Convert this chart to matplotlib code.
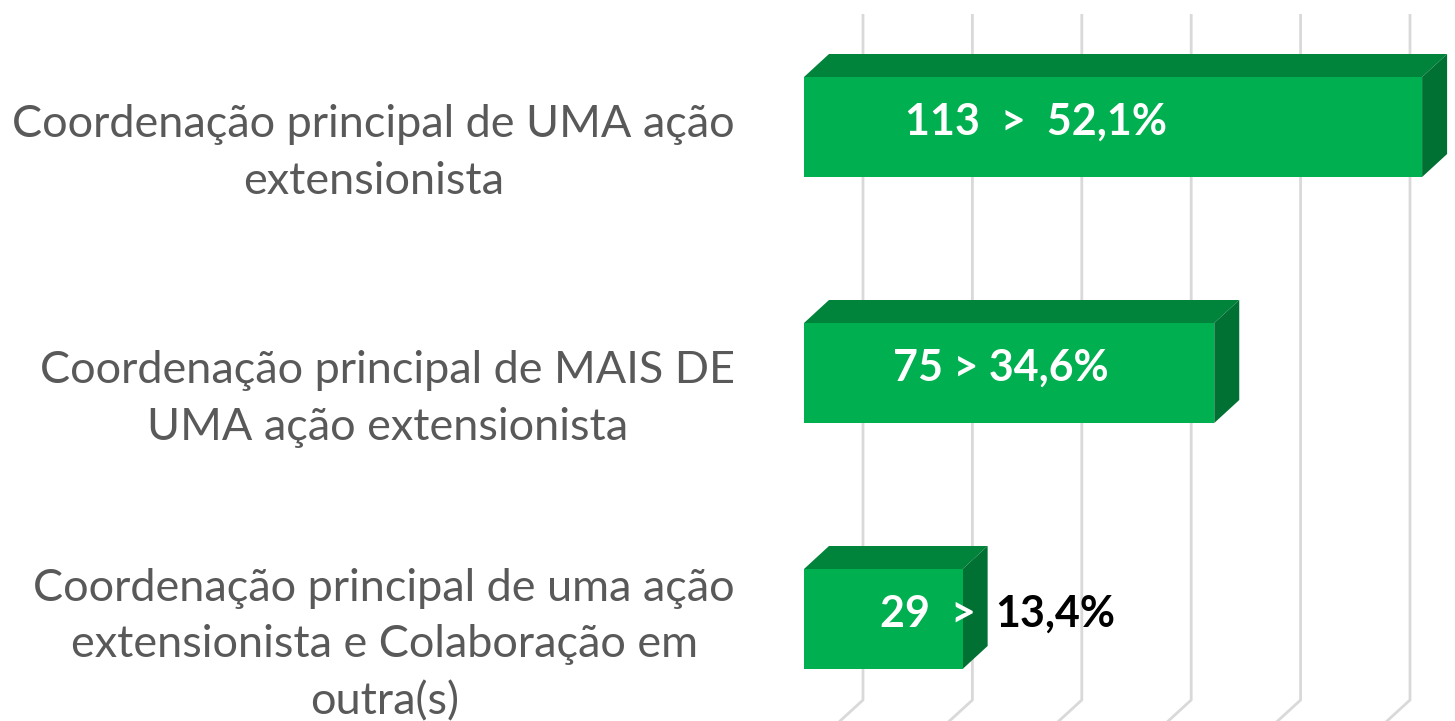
import matplotlib
matplotlib.use('Agg')
import matplotlib.pyplot as plt
from matplotlib.patches import Polygon, Rectangle

# data
categories = ['Coordenação principal de UMA ação\nextensionista',
              'Coordenação principal de MAIS DE\nUMA ação extensionista',
              'Coordenação principal de uma ação\nextensionista e Colaboração em\noutra(s)']
counts = [113, 75, 29]
percents = ['52,1%', '34,6%', '13,4%']
grid_values = [0, 20, 40, 60, 80, 100]

# style / layout
W, H = 1455, 721
px_per_val = 5.47
px_per_cat = 246.0
x0_px, y0_px = 804, 127
bar_h = 100 / px_per_cat
bar_dx, bar_dy = 25 / px_per_val, 23 / px_per_cat
wall_dx, wall_dy = 59 / px_per_val, 54 / px_per_cat
c_front, c_top, c_side = '#00B050', '#00843C', '#007132'
grid_col = '#D9D9D9'
label_col = '#595959'
label_x = [18.5, 16.3, 13.9]
fs_val = 31

plt.rcParams['font.family'] = ['Lato', 'DejaVu Sans']

fig = plt.figure(figsize=(W / 100, H / 100), dpi=100)
ax = fig.add_axes([0, 0, 1, 1])
ax.set_xlim(-x0_px / px_per_val, (W - x0_px) / px_per_val)
ax.set_ylim((H - y0_px) / px_per_cat, -y0_px / px_per_cat)
ax.axis('off')

# back wall gridlines (3D style, bending towards the floor)
y_top = (14 - y0_px) / px_per_cat
y_bend = (700 - y0_px) / px_per_cat
for g in grid_values:
    ax.plot([g + wall_dx, g + wall_dx, g], [y_top, y_bend, y_bend + wall_dy],
            color=grid_col, lw=2, zorder=1, solid_capstyle='butt')

for i, (v, p) in enumerate(zip(counts, percents)):
    top, bot = i - bar_h / 2, i + bar_h / 2
    ax.add_patch(Polygon([(0, top), (v, top), (v + bar_dx, top - bar_dy), (bar_dx, top - bar_dy)],
                         closed=True, fc=c_top, ec='none', zorder=2))
    ax.add_patch(Polygon([(v, top), (v, bot), (v + bar_dx, bot - bar_dy), (v + bar_dx, top - bar_dy)],
                         closed=True, fc=c_side, ec='none', zorder=2))
    ax.add_patch(Rectangle((0, top), v, bar_h, fc=c_front, ec='none', zorder=3))

    if i < 2:
        ax.text(label_x[i], i - 0.02, '{}  >  {}'.format(v, p) if i == 0 else '{} > {}'.format(v, p),
                color='white', fontsize=fs_val, fontweight='bold', ha='left', va='center', zorder=5)
    else:
        ax.text(label_x[i], i - 0.02, '{}  >  '.format(v), color='white', fontsize=fs_val,
                fontweight='bold', ha='left', va='center', zorder=5)
        ax.text(v + bar_dx + 1.3, i - 0.02, p, color='black', fontsize=fs_val,
                fontweight='bold', ha='left', va='center', zorder=5)

    ax.text((735 - x0_px) / px_per_val, i + 26 / px_per_cat, categories[i], color=label_col,
            fontsize=32.4, ha='right', va='center', multialignment='center', linespacing=1.48, zorder=5)

fig.savefig('out.png', dpi=100)
